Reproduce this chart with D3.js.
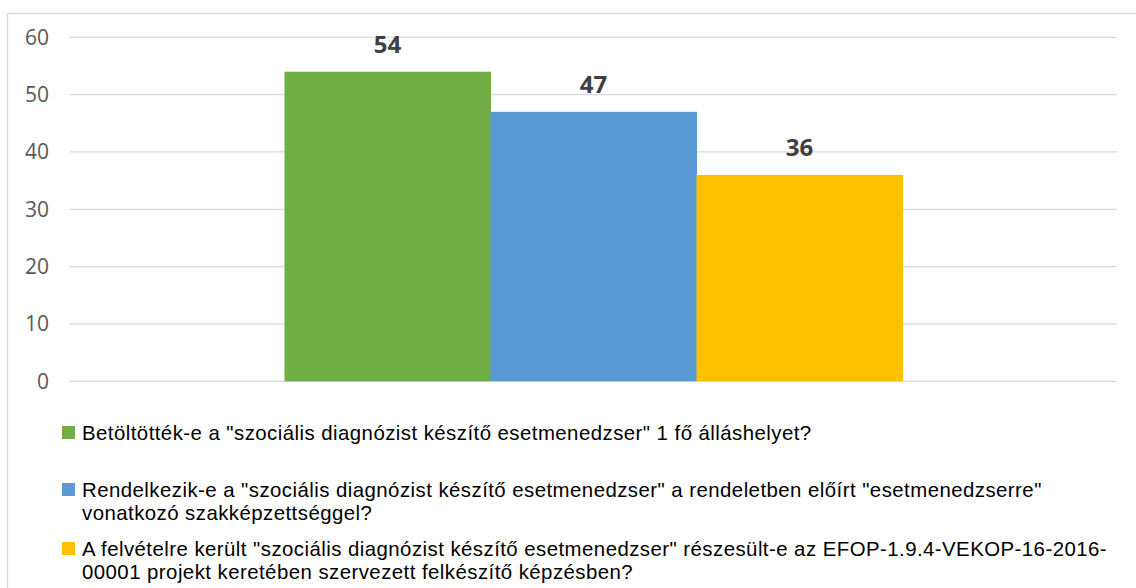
<!DOCTYPE html>
<html>
<head>
<meta charset="utf-8">
<script src="https://cdn.jsdelivr.net/npm/d3@7"></script>
<style>
  html, body { margin: 0; padding: 0; background: #fff; }
  svg { display: block; font-family: "Open Sans", sans-serif; }
</style>
</head>
<body>
<div id="chart"></div>
<script>
const category = ["Összes"];
const seriesNames = [
  "Betöltötték-e a \"szociális diagnózist készítő esetmenedzser\" 1 fő álláshelyet?",
  "Rendelkezik-e a \"szociális diagnózist készítő esetmenedzser\" a rendeletben előírt \"esetmenedzserre\" vonatkozó szakképzettséggel?",
  "A felvételre került \"szociális diagnózist készítő esetmenedzser\" részesült-e az EFOP-1.9.4-VEKOP-16-2016-00001 projekt keretében szervezett felkészítő képzésben?"
];
const legendLines = [
  ["Betöltötték-e a \"szociális diagnózist készítő esetmenedzser\" 1 fő álláshelyet?"],
  ["Rendelkezik-e a \"szociális diagnózist készítő esetmenedzser\" a rendeletben előírt \"esetmenedzserre\"",
   "vonatkozó szakképzettséggel?"],
  ["A felvételre került \"szociális diagnózist készítő esetmenedzser\" részesült-e az EFOP-1.9.4-VEKOP-16-2016-",
   "00001 projekt keretében szervezett felkészítő képzésben?"]
];
const values = [54, 47, 36];
const colors = ["#70AD47", "#5B9BD5", "#FFC000"];
const yTicks = [0, 10, 20, 30, 40, 50, 60];

(function () {
  const W = 1136, H = 588;
  const plotLeft = 70, plotRight = 1117, plotTop = 37.3, plotBottom = 381.3;

  const svg = d3.select("#chart").append("svg")
    .attr("width", W)
    .attr("height", H);

  // outer frame
  svg.append("rect")
    .attr("x", 7.5).attr("y", 13.5)
    .attr("width", W).attr("height", H)
    .attr("fill", "none")
    .attr("stroke", "#d9d9d9")
    .attr("stroke-width", 1.3);

  const y = d3.scaleLinear().domain([0, 60]).range([plotBottom, plotTop]);

  const x0 = d3.scaleBand()
    .domain(category)
    .range([plotLeft, plotRight])
    .paddingInner(0)
    .paddingOuter(0.347);

  const x1 = d3.scaleBand()
    .domain(seriesNames)
    .range([0, x0.bandwidth()]);

  // gridlines
  svg.append("g")
    .selectAll("line")
    .data(yTicks)
    .join("line")
    .attr("x1", plotLeft).attr("x2", plotRight)
    .attr("y1", d => y(d)).attr("y2", d => y(d))
    .attr("stroke", "#d9d9d9")
    .attr("stroke-width", 1.3);

  // y axis labels
  const yAxis = svg.append("g")
    .attr("transform", "translate(59,0)")
    .call(d3.axisLeft(y).tickValues(yTicks).tickSize(0).tickPadding(10));
  yAxis.select(".domain").remove();
  yAxis.selectAll("text")
    .attr("fill", "#595959")
    .style("font-size", "21px")
    .style("font-family", "'Open Sans', sans-serif");

  // bars
  const grp = svg.append("g")
    .attr("transform", `translate(${x0(category[0])},0)`);

  grp.selectAll("rect")
    .data(values)
    .join("rect")
    .attr("x", (d, i) => x1(seriesNames[i]))
    .attr("width", x1.bandwidth() + 0.5)
    .attr("y", d => y(d))
    .attr("height", d => y(0) - y(d))
    .attr("fill", (d, i) => colors[i]);

  grp.selectAll("text.lbl")
    .data(values)
    .join("text")
    .attr("class", "lbl")
    .attr("x", (d, i) => x1(seriesNames[i]) + x1.bandwidth() / 2)
    .attr("y", d => y(d) - 19)
    .attr("text-anchor", "middle")
    .attr("fill", "#404040")
    .style("font-size", "24px")
    .style("font-weight", "700")
    .text(d => d);

  // legend – tighter font metrics so wrapped lines don't collide
  const legendBase = [440, 497, 556];
  const lineGap = 23;
  const legend = svg.append("g");
  legendLines.forEach((lines, i) => {
    const g = legend.append("g");
    g.append("rect")
      .attr("x", 62)
      .attr("y", legendBase[i] - 14)
      .attr("width", 13)
      .attr("height", 13)
      .attr("fill", colors[i]);
    const t = g.append("text")
      .attr("x", 82)
      .attr("y", legendBase[i])
      .attr("fill", "#000")
      .style("font-family", "'Liberation Sans', Arial, sans-serif")
      .style("font-size", "20.4px")
      .style("letter-spacing", "0.45px");
    lines.forEach((ln, j) => {
      t.append("tspan")
        .attr("x", 82)
        .attr("dy", j === 0 ? 0 : lineGap)
        .text(ln);
    });
  });
})();
</script>
</body>
</html>
